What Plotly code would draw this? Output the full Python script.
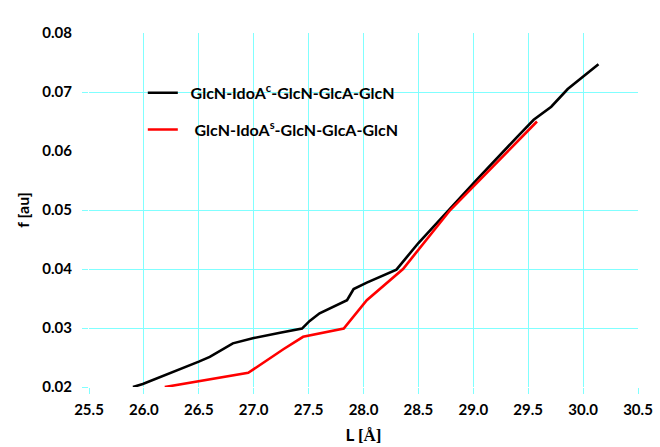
import plotly.graph_objects as go

# Chain length L [Å] vs. force f [au] for the two pentasaccharide conformers
L_c = [25.90, 25.99, 26.50, 26.60, 26.81, 27.00, 27.24, 27.44, 27.51, 27.60,
       27.85, 27.91, 28.03, 28.30, 28.50, 28.79, 29.03, 29.40, 29.55, 29.71,
       29.86, 30.14]
f_c = [0.0200, 0.0205, 0.0243, 0.0251, 0.0274, 0.0283, 0.0292, 0.0299, 0.0312, 0.0325,
       0.0347, 0.0366, 0.0377, 0.0399, 0.0444, 0.0503, 0.0551, 0.0624, 0.0653, 0.0675,
       0.0705, 0.0747]

L_s = [26.19, 26.95, 27.27, 27.45, 27.82, 28.03, 28.36, 28.50, 28.79, 29.58]
f_s = [0.0200, 0.0224, 0.0264, 0.0285, 0.0299, 0.0347, 0.0400, 0.0432, 0.0500, 0.0650]

name_c = "  GlcN-IdoA<sup>c</sup>-GlcN-GlcA-GlcN"
name_s = "   GlcN-IdoA<sup>s</sup>-GlcN-GlcA-GlcN"

x_ticks = [25.5, 26.0, 26.5, 27.0, 27.5, 28.0, 28.5, 29.0, 29.5, 30.0, 30.5]
y_labels = [0.02, 0.03, 0.04, 0.05, 0.06, 0.07, 0.08]
y_grid = [0.02, 0.03, 0.04, 0.05, 0.07]

GRID = "#80FFFF"
FONT = "Lato"

fig = go.Figure()
fig.add_trace(go.Scatter(x=L_c, y=f_c, mode="lines", name=name_c,
                         line=dict(color="black", width=2.6), legendgroup="c"))
fig.add_trace(go.Scatter(x=L_s, y=f_s, mode="lines", name=name_s,
                         line=dict(color="red", width=2.6), legendgroup="s"))
# empty series so the gridline axis is laid out
fig.add_trace(go.Scatter(x=[], y=[], yaxis="y2", showlegend=False, hoverinfo="skip"))

# white panel behind the legend entries
fig.add_shape(type="rect", xref="paper", yref="paper", layer="between",
              x0=0.033, x1=0.599, y0=0.684, y1=0.887,
              fillcolor="white", line=dict(width=0))
fig.add_shape(type="rect", xref="paper", yref="paper", layer="between",
              x0=0.59, x1=0.625, y0=0.703, y1=0.791,
              fillcolor="white", line=dict(width=0))

fig.update_layout(
    width=660, height=447,
    margin=dict(l=89, r=22, t=33, b=60),
    paper_bgcolor="white", plot_bgcolor="white",
    font=dict(family=FONT, color="black", size=15, weight="bold"),
    showlegend=True,
    legend=dict(x=0.098, y=0.879, xanchor="left", yanchor="top",
                bgcolor="rgba(0,0,0,0)", borderwidth=0,
                traceorder="grouped", tracegroupgap=13,
                font=dict(family=FONT, size=16, color="black", weight="bold")),
    xaxis=dict(range=[25.5, 30.5], tickvals=x_ticks,
               ticktext=[f"{v:.1f}" for v in x_ticks],
               showgrid=True, gridcolor=GRID, gridwidth=1,
               ticks="outside", ticklen=6, tickcolor=GRID,
               showline=False, zeroline=False, ticklabelstandoff=3,
               automargin=False,
               title=dict(text='L <span style="font-family:Liberation Serif">[Å]</span>',
                          font=dict(size=17, weight="bold"), standoff=12)),
    yaxis=dict(range=[0.02, 0.08], tickvals=y_labels,
               ticktext=[f"{v:.2f}" for v in y_labels],
               showgrid=False, showline=False, zeroline=False,
               ticks="", ticklabelstandoff=16, automargin=False,
               title=dict(text="f [au]", font=dict(size=16, weight="bold"), standoff=8)),
    yaxis2=dict(range=[0.02, 0.08], overlaying="y", side="left",
                tickvals=y_grid, showticklabels=False,
                showgrid=True, gridcolor=GRID, gridwidth=1.2,
                ticks="outside", ticklen=6, tickcolor=GRID,
                showline=False, zeroline=False, automargin=False),
)

fig.write_html("out.html")
